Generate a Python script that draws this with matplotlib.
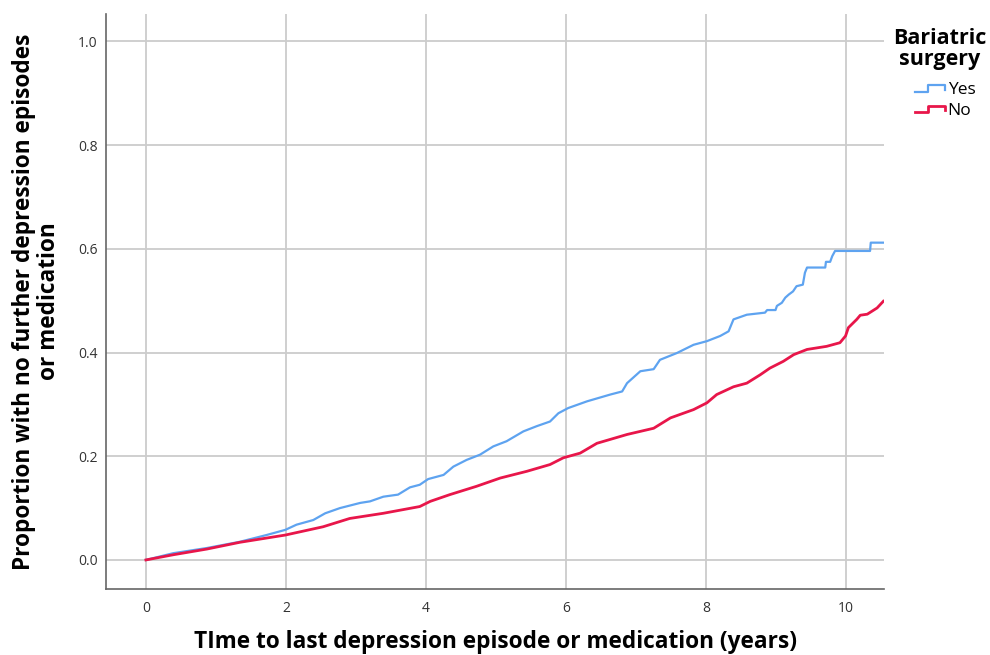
import numpy as np
import matplotlib.pyplot as plt
from matplotlib.lines import Line2D
from matplotlib.legend_handler import HandlerBase

# cumulative proportion curves (time in years)
yes_t = [0, 0.39, 0.87, 1.34, 1.72, 1.99, 2.15, 2.39, 2.56, 2.77, 3.06, 3.2,
         3.39, 3.6, 3.77, 3.91, 4.03, 4.25, 4.39, 4.58, 4.77, 4.96, 5.15, 5.39,
         5.58, 5.77, 5.89, 6.03, 6.3, 6.63, 6.8, 6.87, 7.06, 7.25, 7.34, 7.58,
         7.82, 8.01, 8.2, 8.32, 8.39, 8.58, 8.84, 8.87, 8.99, 9.01, 9.08, 9.13,
         9.18, 9.24, 9.29, 9.38, 9.41, 9.44, 9.70, 9.71, 9.77, 9.80, 9.84,
         10.34, 10.35, 10.53]
yes_s = [0, 0.013, 0.023, 0.035, 0.048, 0.058, 0.068, 0.077, 0.09, 0.10,
         0.11, 0.113, 0.122, 0.126, 0.14, 0.145, 0.156, 0.164, 0.18, 0.193,
         0.203, 0.219, 0.229, 0.248, 0.258, 0.267, 0.283, 0.293, 0.306, 0.319,
         0.325, 0.341, 0.364, 0.368, 0.386, 0.399, 0.415, 0.422, 0.432, 0.441,
         0.464, 0.473, 0.477, 0.482, 0.482, 0.49, 0.496, 0.506, 0.512, 0.518,
         0.528, 0.531, 0.554, 0.564, 0.564, 0.575, 0.575, 0.586, 0.596, 0.596,
         0.612, 0.612]

no_t = [0, 0.39, 0.87, 1.34, 1.99, 2.53, 2.91, 3.39, 3.91, 4.06, 4.34, 4.72,
        5.06, 5.44, 5.77, 5.96, 6.2, 6.44, 6.87, 7.25, 7.49, 7.82, 8.01, 8.15,
        8.39, 8.58, 8.77, 8.91, 9.1, 9.25, 9.44, 9.58, 9.72, 9.91, 9.99, 10.03,
        10.15, 10.2, 10.3, 10.37, 10.44, 10.53]
no_s = [0, 0.01, 0.021, 0.034, 0.048, 0.064, 0.08, 0.09, 0.103, 0.113,
        0.126, 0.142, 0.158, 0.171, 0.184, 0.197, 0.206, 0.225, 0.242, 0.254,
        0.274, 0.29, 0.303, 0.319, 0.334, 0.341, 0.357, 0.37, 0.383, 0.396,
        0.406, 0.409, 0.412, 0.419, 0.432, 0.448, 0.464, 0.472, 0.474, 0.48,
        0.486, 0.499]

x_ticks = [0, 2, 4, 6, 8, 10]
y_ticks = [0.0, 0.2, 0.4, 0.6, 0.8, 1.0]

blue = '#5ea3f0'
red = '#e8164a'


class StepHandle(HandlerBase):
    # legend key drawn as a little step, like the survival curves
    def create_artists(self, legend, orig_handle, xdescent, ydescent,
                       width, height, fontsize, trans):
        x0, y0 = -xdescent, -ydescent
        xs = [x0, x0 + 0.45 * width, x0 + 0.45 * width, x0 + width, x0 + width]
        ys = [y0 + 0.2 * height, y0 + 0.2 * height, y0 + 0.75 * height,
              y0 + 0.75 * height, y0 + 0.35 * height]
        ln = Line2D(xs, ys, color=orig_handle.get_color(),
                    lw=orig_handle.get_linewidth(), transform=trans)
        return [ln]


plt.rcParams['font.family'] = ['Open Sans', 'DejaVu Sans']

fig = plt.figure(figsize=(9.9, 6.55), dpi=100)
ax = fig.add_axes([0.107, 0.1008, 0.786, 0.8778])

l1, = ax.plot(yes_t, yes_s, color=blue, lw=1.6, label='Yes')
l2, = ax.plot(no_t, no_s, color=red, lw=2.0, label='No')

ax.set_xlim(-0.571, 10.54)
ax.set_ylim(-0.056, 1.053)
ax.set_xticks(x_ticks)
ax.set_yticks(y_ticks)
ax.set_yticklabels(['%.1f' % v for v in y_ticks])
ax.grid(True, color='#cccccc', lw=1.3)
ax.set_axisbelow(True)
for s in ['top', 'right']:
    ax.spines[s].set_visible(False)
for s in ['left', 'bottom']:
    ax.spines[s].set_color('#666666')
    ax.spines[s].set_linewidth(1.2)
ax.tick_params(length=0, labelsize=10, labelcolor='#333333')
ax.tick_params(axis='x', pad=9)
ax.tick_params(axis='y', pad=6)

ax.set_xlabel('TIme to last depression episode or medication (years)',
              fontsize=16.3, fontweight='bold', labelpad=10)
ax.set_ylabel('Proportion with no further depression episodes\nor medication',
              fontsize=16.3, fontweight='bold', labelpad=12, linespacing=1.05)

fig.text(0.949, 0.958, 'Bariatric\nsurgery', ha='center', va='top',
         fontsize=15.5, fontweight='bold', linespacing=1.0)
fig.legend([l1, l2], ['Yes', 'No'], handler_map={Line2D: StepHandle()},
           loc='upper left', bbox_to_anchor=(0.915, 0.888), frameon=False,
           fontsize=12.5, handlelength=1.75, handletextpad=0.15,
           labelspacing=0.25, borderpad=0)

fig.savefig('out.png', dpi=100)
